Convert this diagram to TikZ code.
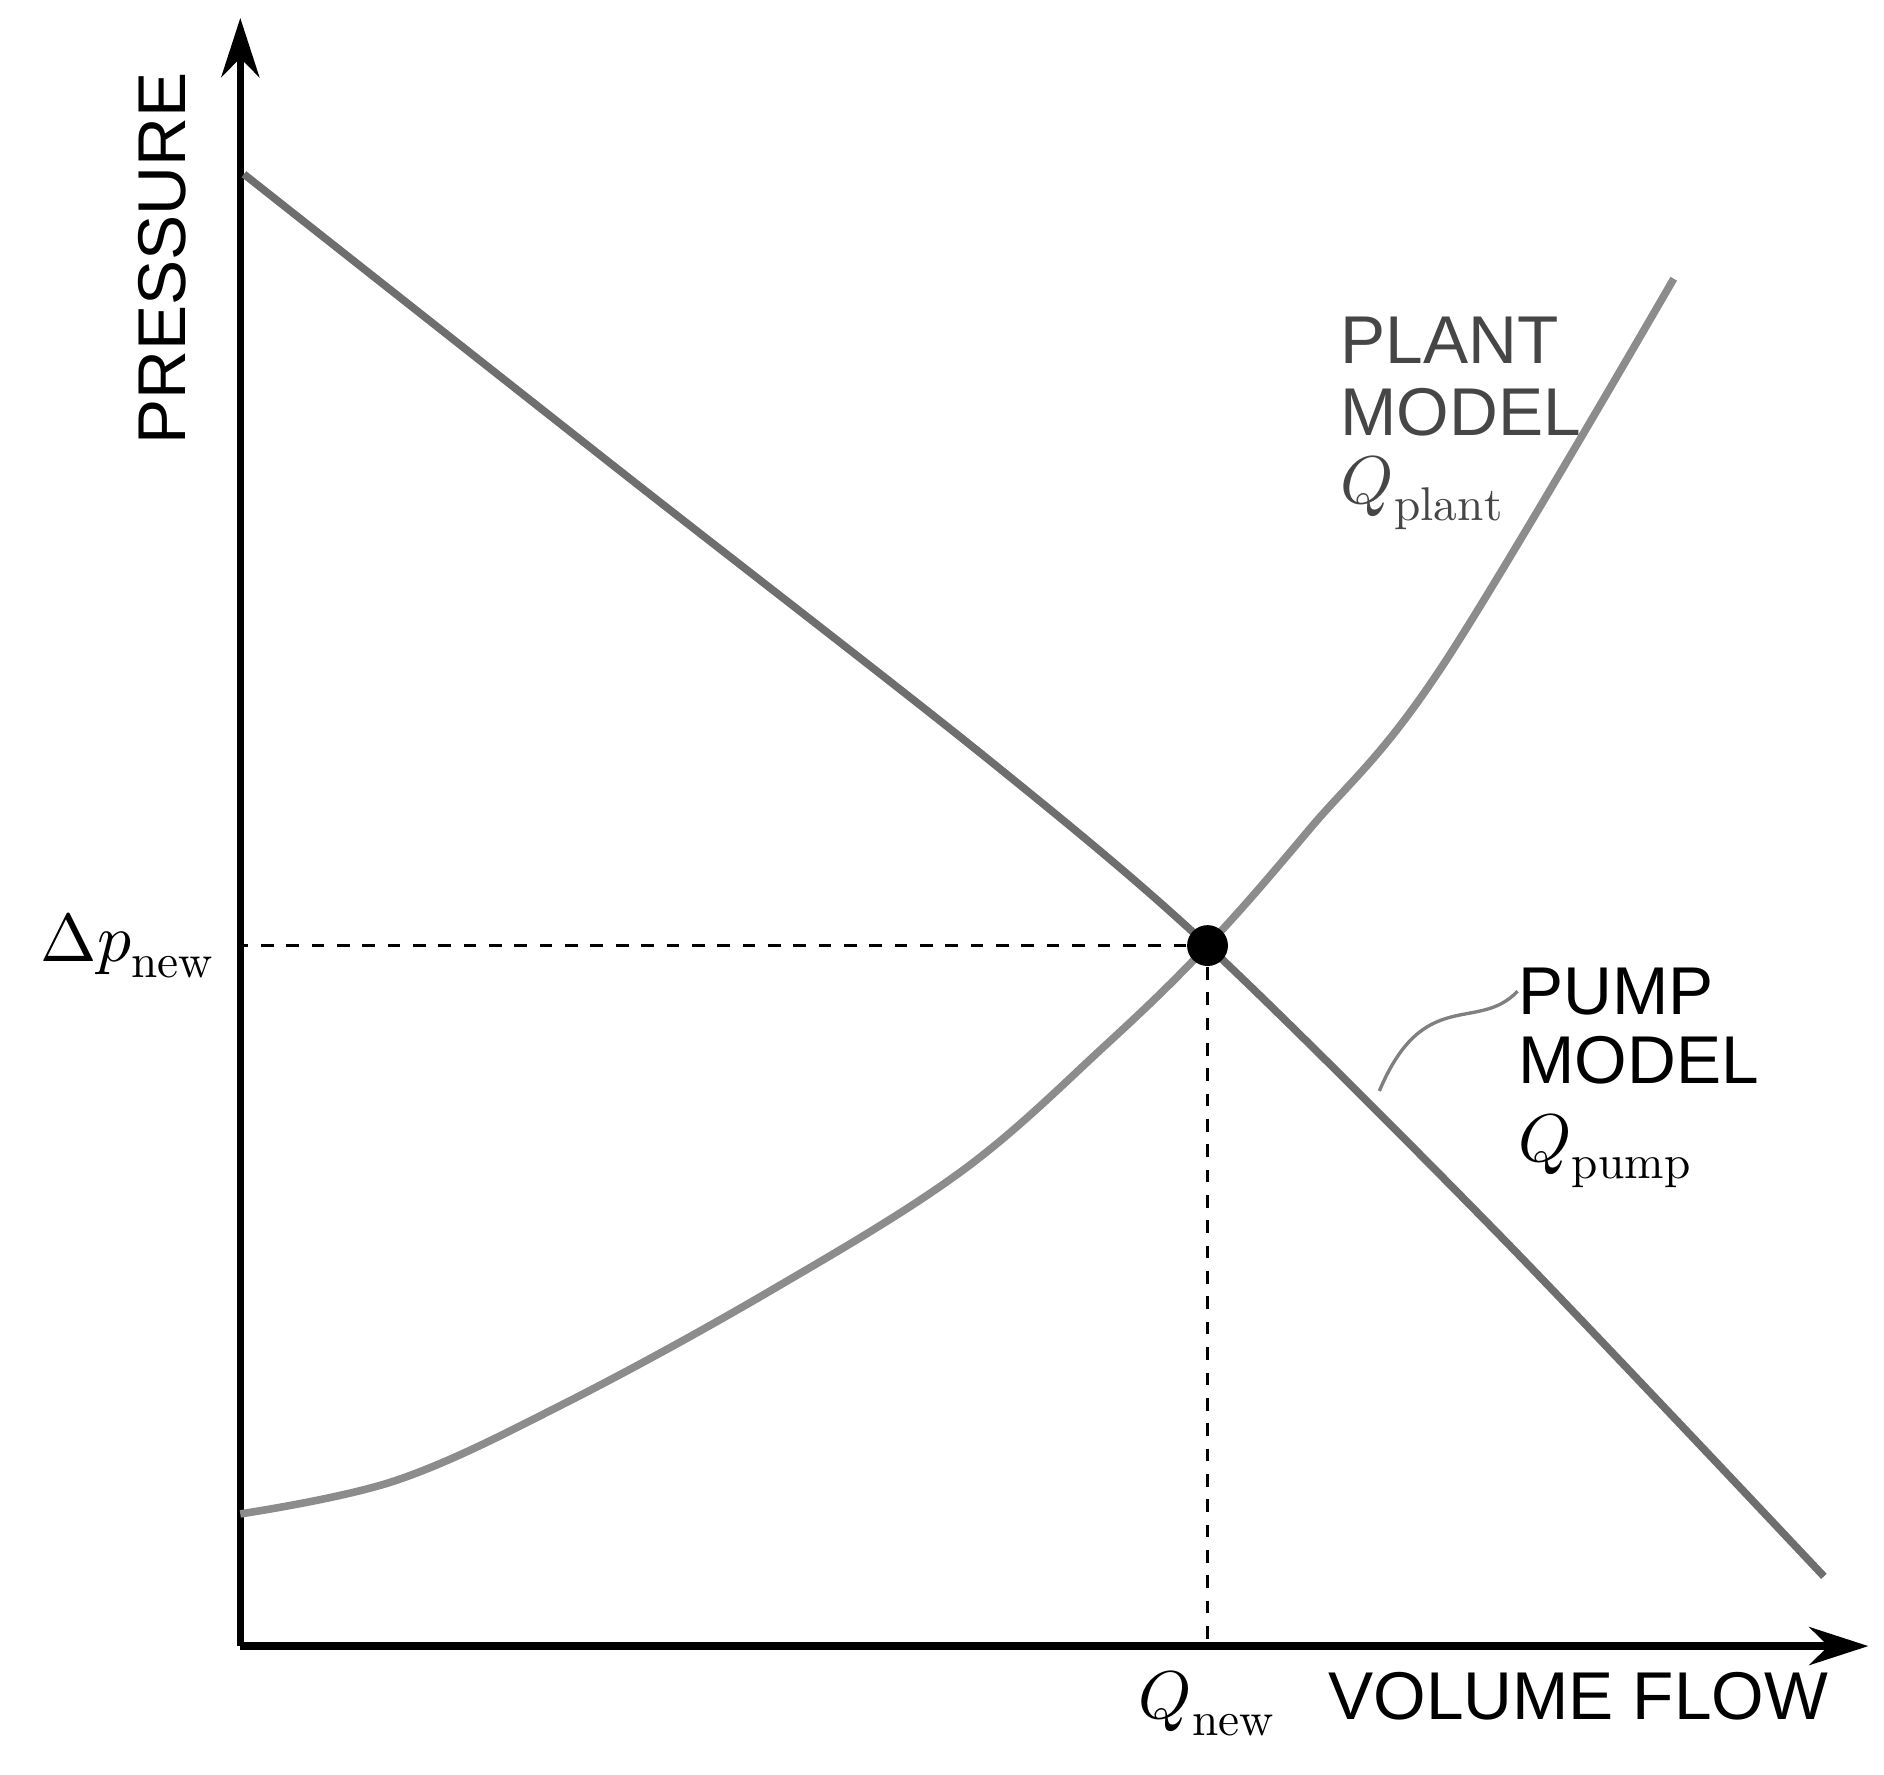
\documentclass[tikz,border=0pt]{standalone}
\usetikzlibrary{arrows.meta}
\usepackage{fontspec}
\setmainfont{Liberation Sans}
\usepackage{unicode-math}
\setmathfont{Latin Modern Math}
\begin{document}
\begin{tikzpicture}[x=0.01cm,y=-0.01cm,
  lbl/.style={font=\fontsize{16}{22}\selectfont,inner sep=0pt},
  pump/.style={draw={rgb,255:red,110;green,110;blue,110},line width=1.8pt},
  plant/.style={draw={rgb,255:red,140;green,140;blue,140},line width=1.8pt},
  ax/.style={line width=1.8pt,-{Stealth[length=14pt,width=9pt]}},
  dsh/.style={dashed,line width=0.8pt}]
\useasboundingbox (0,0) rectangle (1568,1477);
\coordinate (o) at (200,1370);
\coordinate (ytop) at (200,15);
\coordinate (xend) at (1555,1370);
\draw[ax] (o) -- (ytop);
\draw[ax] (o) -- (xend);
\draw[pump] plot[smooth,tension=0.5] coordinates {(203,145) (520,395) (820,630) (1005,787) (1250,1030) (1518,1312)};
\draw[plant] plot[smooth,tension=0.6] coordinates {(200,1260) (330,1232) (470,1168) (640,1075) (800,975) (920,870) (1005,787) (1090,690) (1200,555) (1393,232)};
\node[circle,fill=black,minimum size=0.34cm,inner sep=0pt] (op) at (1005,787) {};
\coordinate (yl) at (200,787);
\coordinate (xl) at (1005,1370);
\draw[dsh] (op) -- (yl);
\draw[dsh] (op) -- (xl);
\node[lbl,anchor=east] (dp) at (180,787) {$\Delta p_{\symup{new}}$};
\node[lbl,anchor=center] (qn) at (1005,1418) {$Q_{\symup{new}}$};
\node[lbl,anchor=west] (vf) at (1105,1412) {VOLUME FLOW};
\node[lbl,rotate=90] (pr) at (135,215) {PRESSURE};
\node[lbl,anchor=west,text={rgb,255:red,70;green,70;blue,70}] (pl1) at (1115,283) {PLANT};
\node[lbl,anchor=west,text={rgb,255:red,70;green,70;blue,70}] (pl2) at (1115,343) {MODEL};
\node[lbl,anchor=west,text={rgb,255:red,70;green,70;blue,70}] (pl3) at (1115,410) {$Q_{\symup{plant}}$};
\node[lbl,anchor=west] (pu1) at (1263,825) {PUMP};
\node[lbl,anchor=west] (pu2) at (1263,882) {MODEL};
\node[lbl,anchor=west] (pu3) at (1263,958) {$Q_{\symup{pump}}$};
\coordinate (lk) at (1148,908);
\draw[gray,line width=0.8pt] (lk) .. controls (1185,820) and (1230,860) .. (pu1.west);
\end{tikzpicture}
\end{document}
